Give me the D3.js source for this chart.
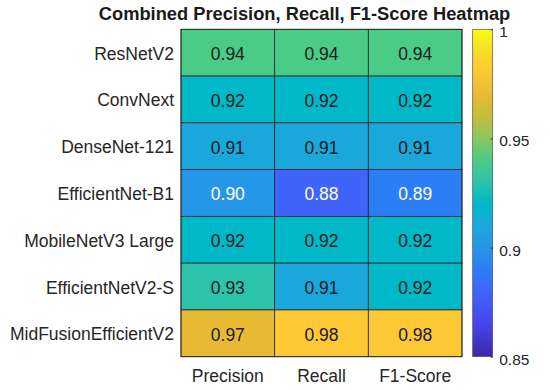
<!DOCTYPE html>
<html>
<head>
<meta charset="utf-8">
<script src="https://cdn.jsdelivr.net/npm/d3@7"></script>
<style>
  html, body { margin: 0; padding: 0; background: #fff; }
  svg { display: block; font-family: "Liberation Sans", Arial, Helvetica, sans-serif; }
</style>
</head>
<body>
<svg id="chart" width="550" height="390"></svg>
<script>
// ---- data ----
const models = ["ResNetV2", "ConvNext", "DenseNet-121", "EfficientNet-B1", "MobileNetV3 Large", "EfficientNetV2-S", "MidFusionEfficientV2"];
const metrics = ["Precision", "Recall", "F1-Score"];
const precision = [0.94, 0.92, 0.91, 0.90, 0.92, 0.93, 0.97];
const recall    = [0.94, 0.92, 0.91, 0.88, 0.92, 0.91, 0.98];
const f1score   = [0.94, 0.92, 0.91, 0.89, 0.92, 0.92, 0.98];
const colorTicks = [0.85, 0.9, 0.95, 1];
const colorDomain = [0.85, 1];
const chartTitle = "Combined Precision, Recall, F1-Score Heatmap";

// ---- style: parula-like colormap stops (position 0..1 -> colour) ----
const cmapPos = [0, 0.1, 0.2, 0.267, 0.333, 0.4, 0.467, 0.533, 0.6, 0.667, 0.733, 0.8, 0.867, 0.933, 1];
const cmapCol = ["#3E26A8", "#4745EA", "#4064FA", "#2C7EF6", "#2696E6", "#1AA8DC", "#00B8C8", "#2DC3AA",
                 "#4ACB88", "#88C860", "#C4BE3C", "#E8BA34", "#FCC834", "#F5DE28", "#F9FB15"];

const seriesByMetric = { "Precision": precision, "Recall": recall, "F1-Score": f1score };
const cells = [];
models.forEach((m, i) => metrics.forEach(k => cells.push({ model: m, metric: k, value: seriesByMetric[k][i] })));

const svg = d3.select("#chart");
const pL = 181, pR = 462, pT = 29.3, pB = 356.7;
const font = 17.5;

const x = d3.scaleBand().domain(metrics).range([pL, pR]);
const y = d3.scaleBand().domain(models).range([pT, pB]);
const tNorm = d3.scaleLinear().domain(colorDomain).range([0, 1]).clamp(true);
const cmap = d3.scaleLinear().domain(cmapPos).range(cmapCol).interpolate(d3.interpolateRgb);
const color = v => cmap(tNorm(v));

// cells
svg.append("g").selectAll("rect").data(cells).join("rect")
  .attr("x", d => x(d.metric)).attr("y", d => y(d.model))
  .attr("width", x.bandwidth()).attr("height", y.bandwidth())
  .attr("fill", d => color(d.value))
  .attr("stroke", "#262626").attr("stroke-width", 0.8);

svg.append("g").selectAll("text").data(cells).join("text")
  .attr("x", d => x(d.metric) + x.bandwidth() / 2)
  .attr("y", d => y(d.model) + y.bandwidth() / 2)
  .attr("dy", "0.42em")
  .attr("text-anchor", "middle")
  .attr("font-size", font)
  .attr("fill", d => d.value < 0.905 ? "#ffffff" : "#1a1a1a")
  .text(d => d3.format(".2f")(d.value));

// axes
const gx = svg.append("g").attr("transform", `translate(0,${pB})`)
  .call(d3.axisBottom(x).tickSize(0).tickPadding(12.5));
gx.select(".domain").remove();
gx.selectAll("text").attr("font-size", font).attr("fill", "#262626").attr("font-family", null);

const gy = svg.append("g").attr("transform", `translate(${pL},0)`)
  .call(d3.axisLeft(y).tickSize(0).tickPadding(7));
gy.select(".domain").remove();
gy.selectAll("text").attr("font-size", font).attr("fill", "#262626").attr("font-family", null).attr("dy", "0.4em");

// outer border
svg.append("rect").attr("x", pL).attr("y", pT).attr("width", pR - pL).attr("height", pB - pT)
  .attr("fill", "none").attr("stroke", "#262626").attr("stroke-width", 0.8);

// colorbar
const cbX = 472.7, cbW = 20;
const cb = d3.scaleLinear().domain(colorDomain).range([pB, pT]);
const defs = svg.append("defs");
const grad = defs.append("linearGradient").attr("id", "cbgrad")
  .attr("x1", "0").attr("y1", "1").attr("x2", "0").attr("y2", "0");
grad.selectAll("stop").data(d3.range(0, 1.0001, 0.02)).join("stop")
  .attr("offset", d => d).attr("stop-color", d => cmap(d));
svg.append("rect").attr("x", cbX).attr("y", pT).attr("width", cbW).attr("height", pB - pT)
  .attr("fill", "url(#cbgrad)").attr("stroke", "#555").attr("stroke-width", 0.7);

const gcb = svg.append("g").attr("transform", `translate(${cbX + cbW},0)`)
  .call(d3.axisRight(cb).tickValues(colorTicks).tickFormat(d => String(d)).tickSize(-2).tickPadding(6.5));
gcb.select(".domain").remove();
gcb.selectAll("line").attr("stroke", "#262626");
gcb.selectAll("text").attr("font-size", 15.5).attr("fill", "#262626").attr("font-family", null).attr("dy", "0.48em");

// title
svg.append("text").attr("x", 304.5).attr("y", 19.5).attr("text-anchor", "middle")
  .attr("font-size", 18.3).attr("font-weight", "bold").attr("fill", "#1a1a1a").text(chartTitle);
</script>
</body>
</html>
